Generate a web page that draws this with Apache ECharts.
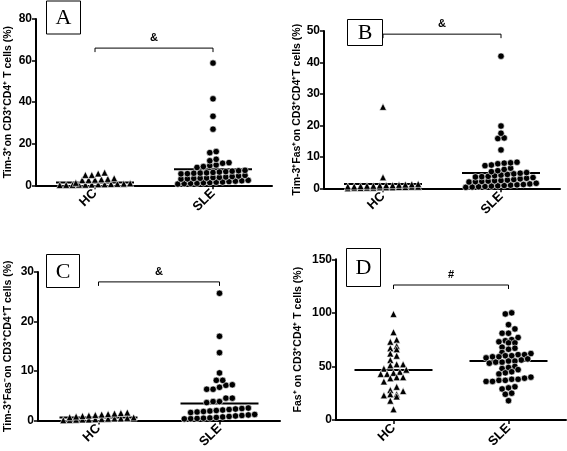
<!DOCTYPE html>
<html><head><meta charset="utf-8">
<script src="https://cdn.jsdelivr.net/npm/echarts@6/dist/echarts.min.js"></script>
<style>html,body{margin:0;padding:0;background:#fff}#c{width:567px;height:451px}</style>
</head><body><div id="c"></div>
<script>
// ---------- data ----------
const categories = ['HC', 'SLE'];
const panelLetters = ['A', 'B', 'C', 'D'];
const yTitles = [
  'Tim-3\u207Aon CD3\u207ACD4\u207A T cells (%)',
  'Tim-3\u207AFas\u207Aon CD3\u207ACD4\u207AT cells (%)',
  'Tim-3\u207AFas\u207Bon CD3\u207ACD4\u207AT cells (%)',
  'Fas\u207A on CD3\u207ACD4\u207A T cells (%)'
];
const yMax = [80, 50, 30, 150];
const yInterval = [20, 10, 10, 50];
const sigLabels = ['&', '&', '&', '#'];
const bracketY = [66, 49, 28, 126];
const meanHC = [1.4, 1.4, 0.6, 46.6];
const meanSLE = [7.7, 4.9, 3.4, 55.0];

const hcA = [0.1,0.2,0.2,0.3,0.3,0.4,0.5,0.5,0.6,0.7,0.8,1.0,1.2,
             2.5,2.6,2.7,2.9,3.1,3.4, 5.0,5.0,5.7,6.1];
const sleA = [0.6,0.8,0.9,1.0,1.2,1.3,1.5,1.6,1.8,2.0,2.2,2.4,
              3.0,3.1,3.3,3.4,3.5,3.7,3.8,4.0,4.2,4.5,4.8,
              5.5,5.6,5.8,5.9,6.0,6.2,6.4,6.6,6.8,7.0,7.2,
              8.6,9.0,9.5,9.8,10.6,10.9, 11.8,12.5, 15.7,16.2, 27.0,33.2,41.6,58.8];

const hcB = [0.0,0.1,0.1,0.2,0.2,0.3,0.3,0.3,0.4,0.4,0.5,0.5,
             0.6,0.6,0.7,0.8,0.8,0.9,1.0,1.0,1.1,1.2,1.3,1.4, 3.5, 25.9];
const sleB = [0.3,0.4,0.5,0.6,0.7,0.8,0.9,1.0,1.1,1.2,1.4,1.6,
              2.0,2.1,2.2,2.3,2.4,2.5,2.6,2.8,3.0,3.2,3.4,
              3.6,3.7,3.8,4.0,4.2,4.4,4.6,4.8,5.0,
              5.3,5.6,6.0,6.4, 7.2,7.4,7.8,8.0,8.1,8.3,
              12.2, 15.8,16.0, 17.5, 19.8, 42.0];

const hcC = [0.05,0.1,0.15,0.2,0.2,0.25,0.3,0.35,0.4,0.4,0.5,0.6,
             0.65,0.8,0.9,1.0,1.1,1.2,1.3,1.4,1.5,1.6];
const sleC = [0.3,0.35,0.4,0.45,0.5,0.6,0.7,0.8,0.9,1.0,1.1,1.2,
              1.6,1.7,1.8,1.9,2.0,2.1,2.2,2.3,2.4,2.5,
              3.6,3.8,3.8,4.5,4.5, 6.3,6.3,6.7,7.1,7.2, 8.1,8.1,
              9.6, 13.7, 17.0, 25.7];

const hcD = [99,82,75,73,69,67,66,62,60,56,52,52,51,48,47,45,44,43,43,40,
             39,40,36,31,28,27,24,24,23,22,18,10];
const sleD = [100,99,89,85,81,81,77,75,74,73,72,72,68,67,66,63,62,61,61,60,
              60,59,59,58,57,56,55,55,54,54,53,50,49,48,47,45,44,43,40,39,
              38,38,37,37,36,36,31,30,29,25,24,18];

const hcSets = [hcA, hcB, hcC, hcD];
const sleSets = [sleA, sleB, sleC, sleD];

// ---------- layout ----------
const grids = [
  {left: 36, top: 19, width: 236, height: 166.3},
  {left: 324, top: 31, width: 236, height: 157.3},
  {left: 38, top: 272, width: 242, height: 148.7},
  {left: 336, top: 259.3, width: 230, height: 160.7}
];
const nameGaps = [22, 21, 24, 32];
const boxes = [
  {x: 46, y: 0.5, w: 34, h: 33},
  {x: 347, y: 19, w: 35, h: 26},
  {x: 46, y: 254, w: 33, h: 33},
  {x: 346, y: 248, w: 34, h: 38}
];
const FONT = 'Arial';

// beeswarm: group sorted values into rows of similar height, spread horizontally
function swarm(values, pxPerUnit, rowThresh, gap, maxPerRow) {
  const idx = values.map((v, i) => i).sort((a, b) => values[a] - values[b]);
  const offs = new Array(values.length).fill(0);
  let row = [], start = null;
  const flush = () => {
    const n = row.length;
    row.forEach((k, j) => { offs[k] = (j - (n - 1) / 2) * gap; });
    row = [];
  };
  idx.forEach(k => {
    const v = values[k];
    if (start === null || (v - start) * pxPerUnit >= rowThresh || row.length >= maxPerRow) {
      flush(); start = v;
    }
    row.push(k);
  });
  flush();
  return offs;
}

function points(values, cat, ppu) {
  const offs = swarm(values, ppu, 5, 6.4, 12);
  return values.map((v, i) => ({value: [cat, v], symbolOffset: [offs[i], 0]}));
}

const option = {
  animation: false,
  backgroundColor: '#fff',
  grid: [], xAxis: [], yAxis: [], series: [], graphic: []
};

for (let i = 0; i < 4; i++) {
  const g = grids[i];
  const ppu = g.height / yMax[i];
  option.grid.push({left: g.left, top: g.top, width: g.width, height: g.height, containLabel: false});
  option.xAxis.push({
    type: 'category', gridIndex: i, data: categories, boundaryGap: true,
    axisLine: {show: true, lineStyle: {color: '#000', width: 2}},
    axisTick: {show: true, alignWithLabel: true, length: 4, lineStyle: {color: '#000', width: 1.5}},
    axisLabel: {rotate: 45, margin: 6, color: '#000', fontWeight: 900, fontSize: 13, fontFamily: FONT},
    splitLine: {show: false}
  });
  option.yAxis.push({
    type: 'value', gridIndex: i, min: 0, max: yMax[i], interval: yInterval[i],
    name: yTitles[i], nameLocation: 'middle', nameGap: nameGaps[i],
    nameTextStyle: {color: '#000', fontWeight: 900, fontSize: 10.5, fontFamily: FONT},
    axisLine: {show: true, lineStyle: {color: '#000', width: 2}},
    axisTick: {show: true, length: 4, lineStyle: {color: '#000', width: 1.5}},
    axisLabel: {margin: 4, color: '#000', fontWeight: 900, fontSize: 12, fontFamily: FONT},
    splitLine: {show: false}
  });
  option.series.push({
    type: 'scatter', xAxisIndex: i, yAxisIndex: i, symbol: 'triangle', symbolSize: 7,
    itemStyle: {color: '#000', borderColor: '#fff', borderWidth: 0.6, opacity: 1},
    data: points(hcSets[i], 0, ppu), silent: true
  });
  option.series.push({
    type: 'scatter', xAxisIndex: i, yAxisIndex: i, symbol: 'circle', symbolSize: 6.5,
    itemStyle: {color: '#000', borderColor: '#fff', borderWidth: 0.6, opacity: 1},
    data: points(sleSets[i], 1, ppu), silent: true
  });
  option.series.push({
    type: 'custom', xAxisIndex: i, yAxisIndex: i, clip: false, silent: true,
    data: [[0, meanHC[i]], [1, meanSLE[i]]],
    renderItem: (params, api) => {
      const p = api.coord([api.value(0), api.value(1)]);
      return {type: 'line', z2: 10, shape: {x1: p[0] - 39, y1: p[1], x2: p[0] + 39, y2: p[1]},
              style: {stroke: '#000', lineWidth: 2}};
    }
  });
  const lab = sigLabels[i];
  option.series.push({
    type: 'custom', xAxisIndex: i, yAxisIndex: i, clip: false, silent: true,
    encode: {x: [0, 1], y: 2},
    data: [[0, 1, bracketY[i]]],
    renderItem: (params, api) => {
      const a = api.coord([api.value(0), api.value(2)]);
      const b = api.coord([api.value(1), api.value(2)]);
      return {type: 'group', children: [
        {type: 'polyline', shape: {points: [[a[0], a[1] + 4], [a[0], a[1]], [b[0], b[1]], [b[0], b[1] + 4]]},
         style: {stroke: '#000', lineWidth: 1, fill: null}},
        {type: 'text', x: (a[0] + b[0]) / 2, y: a[1] - 10,
         style: {text: lab, font: 'bold 11px Arial', fill: '#000', align: 'center', verticalAlign: 'middle'}}
      ]};
    }
  });
  const bx = boxes[i];
  option.graphic.push({
    type: 'group', left: bx.x, top: bx.y, children: [
      {type: 'rect', shape: {x: 0, y: 0, width: bx.w, height: bx.h}, style: {fill: '#fff', stroke: '#000', lineWidth: 1}},
      {type: 'text', x: bx.w / 2, y: bx.h / 2 + 1, style: {text: panelLetters[i], font: '22px "Liberation Serif", "Times New Roman", serif', fill: '#000', align: 'center', verticalAlign: 'middle'}}
    ]
  });
}

const chart = echarts.init(document.getElementById('c'), null, {renderer: 'canvas'});
chart.setOption(option);
</script>
</body></html>
